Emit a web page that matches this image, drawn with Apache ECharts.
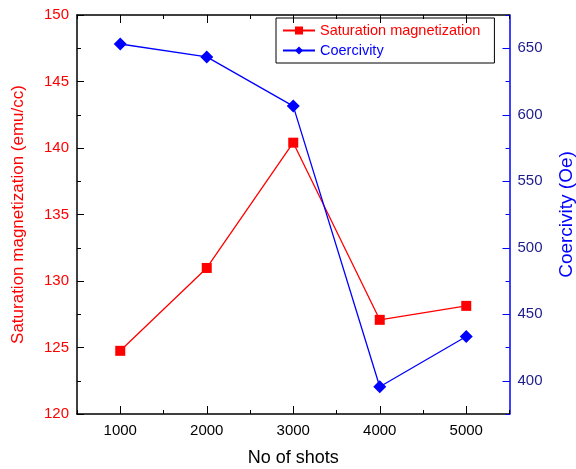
<!DOCTYPE html>
<html><head><meta charset="utf-8">
<script src="https://cdn.jsdelivr.net/npm/echarts@6/dist/echarts.min.js"></script>
<style>html,body{margin:0;padding:0;background:#fff}#c{width:576px;height:469px}</style>
</head><body><div id="c"></div>
<script>
const shots = [1000, 2000, 3000, 4000, 5000];
const saturation = [124.75, 130.98, 140.4, 127.08, 128.13];
const coercivity = [653.2, 643.5, 606.5, 395.5, 433.3];
const xMajorTicks = [1000, 2000, 3000, 4000, 5000];
const rightMajorTicks = [400, 450, 500, 550, 600, 650];

const FONT = 'Liberation Sans, Arial, Helvetica, sans-serif';
const chart = echarts.init(document.getElementById('c'));
const xBase = {type:'value', min:500, max:5500, gridIndex:0, splitLine:{show:false}};
const black = '#000';
chart.setOption({
  animation:false,
  backgroundColor:'#fff',
  grid:{left:77, right:66.5, top:15, bottom:55, containLabel:false, outerBoundsMode:'none'},
  legend:{
    orient:'vertical', left:276, top:18, width:221,
    padding:[5,14,5,6], itemGap:5, itemWidth:32, itemHeight:10,
    borderColor:'#000', borderWidth:1,
    textStyle:{fontFamily:FONT, fontSize:14.5},
    data:[
      {name:'Saturation magnetization', textStyle:{color:'#ff0000'}},
      {name:'Coercivity', textStyle:{color:'#0000ff'}}
    ]
  },
  xAxis:[
    Object.assign({}, xBase, {position:'bottom', interval:500,
      name:'No of shots', nameLocation:'middle', nameGap:35,
      nameTextStyle:{fontFamily:FONT, fontSize:18, color:black},
      axisLine:{lineStyle:{color:black, width:1.5}},
      axisTick:{inside:true, length:4, lineStyle:{color:black}},
      axisLabel:{fontFamily:FONT, fontSize:15, color:black, margin:9,
        formatter:v => (v % 1000 === 0 ? String(v) : '')}}),
    Object.assign({}, xBase, {position:'top', interval:500,
      axisLine:{lineStyle:{color:black, width:1.5}},
      axisTick:{inside:true, length:4, lineStyle:{color:black}},
      axisLabel:{show:false}}),
    Object.assign({}, xBase, {position:'top',
      axisLine:{show:false},
      axisTick:{inside:true, length:8, customValues:xMajorTicks, lineStyle:{color:black}},
      axisLabel:{show:false, customValues:xMajorTicks}}),
    Object.assign({}, xBase, {position:'bottom',
      axisLine:{show:false},
      axisTick:{inside:true, length:8, customValues:xMajorTicks, lineStyle:{color:black}},
      axisLabel:{show:false, customValues:xMajorTicks}})
  ],
  yAxis:[
    {type:'value', position:'left', min:120, max:150, interval:5,
      name:'Saturation magnetization (emu/cc)', nameLocation:'middle', nameGap:50,
      nameTextStyle:{fontFamily:FONT, fontSize:17, color:'#ff0000'},
      axisLine:{show:true, lineStyle:{color:black, width:1.5}},
      axisTick:{inside:true, length:7, lineStyle:{color:black}},
      minorTick:{show:true, splitNumber:2, length:4, lineStyle:{color:black}},
      axisLabel:{fontFamily:FONT, fontSize:15, color:'#ff0000', margin:8},
      splitLine:{show:false}},
    {type:'value', position:'right', min:375, max:675, interval:25,
      name:'Coercivity (Oe)', nameLocation:'middle', nameGap:48,
      nameRotate:90,
      nameTextStyle:{fontFamily:FONT, fontSize:19, color:'#0000ff'},
      axisLine:{show:true, lineStyle:{color:'#0000ff', width:1.5}},
      axisTick:{inside:true, length:4, lineStyle:{color:'#0000ff'}},
      axisLabel:{fontFamily:FONT, fontSize:15, color:'#1c1c8c', margin:8,
        formatter:v => (v % 50 === 0 && v > 375 && v < 675 ? String(v) : '')},
      splitLine:{show:false}},
    {type:'value', position:'right', min:375, max:675,
      axisLine:{show:false},
      axisTick:{show:true, inside:true, length:7, customValues:rightMajorTicks, lineStyle:{color:'#0000ff'}},
      axisLabel:{show:false, customValues:rightMajorTicks},
      splitLine:{show:false}}
  ],
  series:[
    {name:'Saturation magnetization', type:'line', xAxisIndex:0, yAxisIndex:0,
      data:shots.map((s,i)=>[s, saturation[i]]),
      symbol:'rect', symbolSize:10, color:'#ff0000',
      lineStyle:{color:'#ff0000', width:1.3}, itemStyle:{color:'#ff0000'}},
    {name:'Coercivity', type:'line', xAxisIndex:0, yAxisIndex:1,
      data:shots.map((s,i)=>[s, coercivity[i]]),
      symbol:'diamond', symbolSize:13, color:'#0000ff',
      lineStyle:{color:'#0000ff', width:1.3}, itemStyle:{color:'#0000ff'}}
  ]
});
</script></body></html>
